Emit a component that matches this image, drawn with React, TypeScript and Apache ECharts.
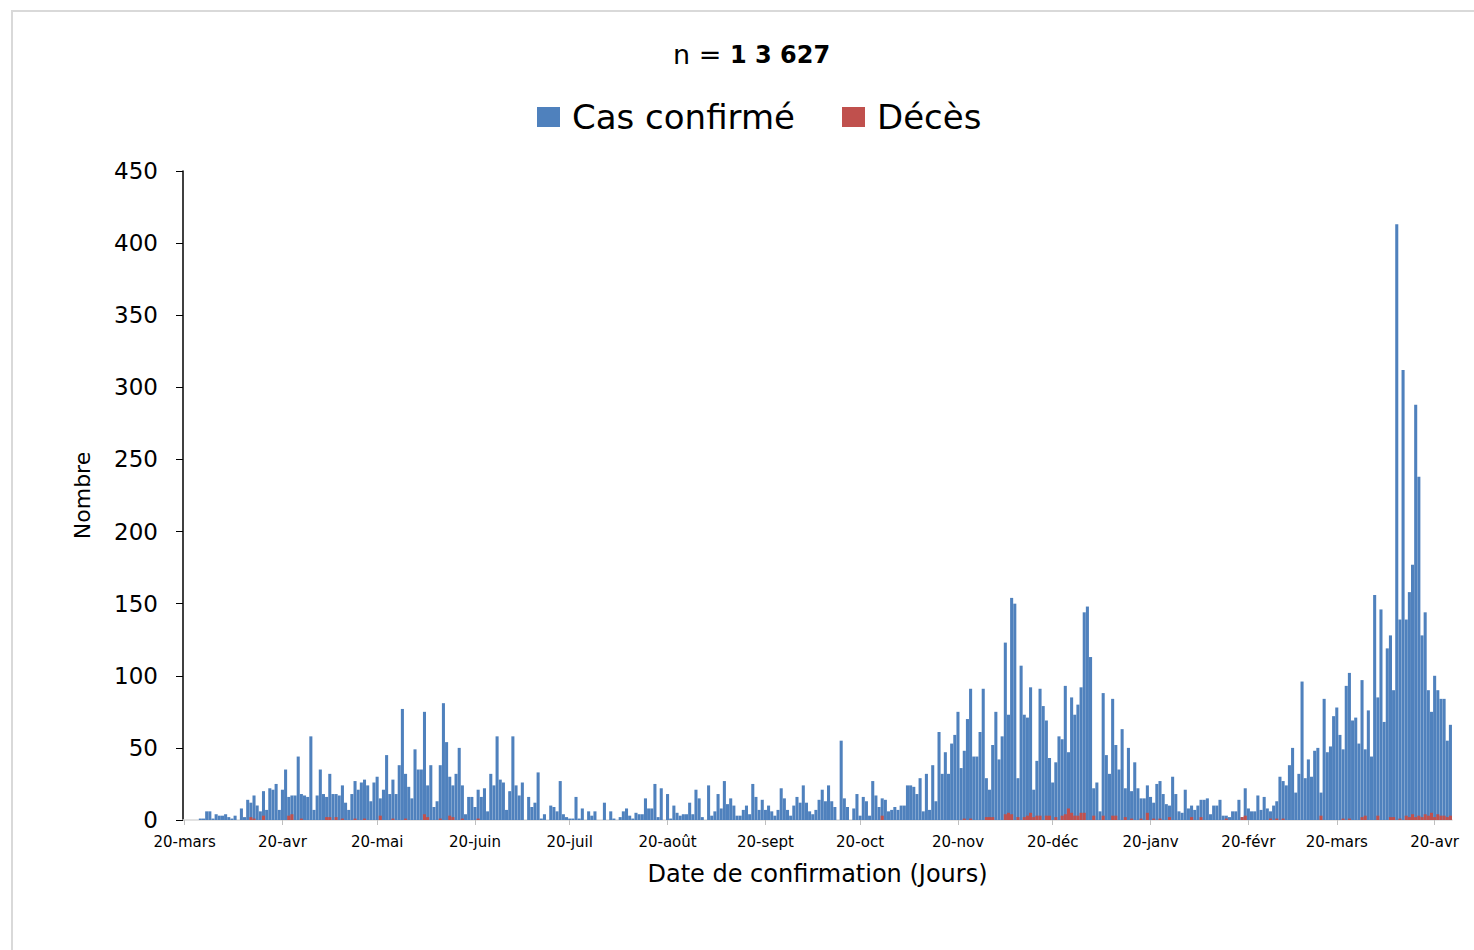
import React, { useEffect, useRef } from "react";
import * as echarts from "echarts";

// Daily series starting 20 March 2020 (one value per day)
const START_YEAR = 2020;
const START_MONTH = 2; // March (0-based)
const START_DAY = 20;
const MONTHS = ["janv", "févr", "mars", "avr", "mai", "juin", "juil", "août", "sept", "oct", "nov", "déc"];

const TITLE_PREFIX = "n = ";
const TITLE_TOTAL = "1 3 627";
const SERIES_CASES = "Cas confirmé";
const SERIES_DEATHS = "Décès";
const X_TITLE = "Date de confirmation (Jours)";
const Y_TITLE = "Nombre";

const cases = [
  0, 0, 0, 0, 0, 1, 1, 6, 6, 1, 4, 3, 3, 4, 2, 1, 3, 0, 8, 2,
  14, 12, 17, 10, 6, 20, 7, 22, 21, 25, 7, 21, 35, 16, 17, 17, 44, 18, 17, 16,
  58, 7, 17, 35, 18, 16, 32, 18, 18, 17, 24, 12, 7, 18, 27, 21, 26, 28, 24, 13,
  26, 30, 15, 21, 45, 18, 28, 18, 38, 77, 32, 23, 15, 49, 35, 35, 75, 24, 38, 9,
  13, 38, 81, 54, 30, 24, 32, 50, 24, 4, 16, 16, 9, 21, 16, 22, 6, 32, 24, 58,
  28, 26, 7, 20, 58, 24, 17, 26, 0, 16, 9, 12, 33, 1, 4, 0, 10, 9, 6, 27,
  4, 2, 1, 1, 16, 1, 8, 0, 6, 3, 6, 0, 0, 12, 0, 6, 1, 0, 2, 6,
  8, 3, 1, 5, 4, 4, 15, 8, 8, 25, 2, 22, 0, 18, 1, 10, 5, 3, 4, 4,
  12, 4, 21, 15, 2, 0, 24, 3, 6, 18, 8, 27, 11, 15, 10, 3, 3, 7, 10, 4,
  25, 16, 7, 14, 7, 10, 6, 3, 7, 22, 15, 7, 3, 10, 16, 12, 24, 12, 6, 4,
  7, 14, 21, 13, 24, 13, 9, 0, 55, 15, 9, 0, 8, 18, 3, 16, 13, 3, 27, 17,
  9, 15, 14, 6, 7, 9, 7, 10, 10, 24, 24, 23, 18, 29, 6, 32, 7, 38, 13, 61,
  32, 47, 32, 53, 59, 75, 36, 48, 70, 91, 44, 44, 61, 91, 29, 21, 52, 75, 42, 58,
  123, 73, 154, 150, 29, 107, 73, 71, 92, 21, 41, 91, 79, 69, 43, 26, 40, 58, 56, 93,
  47, 85, 73, 80, 92, 144, 148, 113, 22, 26, 6, 88, 45, 32, 84, 52, 35, 63, 22, 50,
  20, 40, 22, 15, 15, 24, 16, 12, 25, 27, 18, 11, 10, 30, 18, 6, 5, 21, 8, 10,
  7, 10, 14, 14, 15, 4, 10, 10, 14, 3, 3, 2, 6, 6, 14, 2, 22, 8, 6, 6,
  17, 7, 16, 8, 6, 10, 13, 30, 27, 24, 38, 50, 19, 32, 96, 29, 42, 30, 48, 50,
  19, 84, 47, 51, 72, 78, 59, 49, 93, 102, 69, 71, 53, 97, 49, 76, 44, 156, 85, 146,
  68, 119, 128, 90, 413, 139, 312, 139, 158, 177, 288, 238, 128, 144, 90, 75, 100, 90, 84, 84,
  55, 66,
];

const deaths = [
  0, 0, 0, 0, 0, 0, 0, 0, 0, 0, 0, 0, 0, 0, 0, 0, 0, 0, 0, 0,
  0, 2, 1, 0, 0, 3, 0, 0, 0, 0, 0, 0, 0, 3, 4, 0, 0, 1, 0, 0,
  0, 0, 0, 0, 0, 2, 2, 0, 2, 0, 1, 0, 0, 0, 1, 0, 0, 1, 0, 0,
  0, 0, 3, 0, 0, 0, 1, 0, 0, 0, 1, 0, 0, 0, 0, 0, 4, 2, 0, 0,
  0, 1, 0, 0, 3, 2, 0, 0, 1, 0, 0, 0, 0, 1, 0, 0, 0, 0, 0, 0,
  0, 0, 0, 0, 0, 0, 0, 0, 0, 0, 0, 0, 0, 0, 0, 0, 0, 0, 0, 0,
  0, 0, 0, 0, 0, 0, 0, 0, 0, 0, 0, 0, 0, 0, 0, 0, 0, 0, 0, 0,
  0, 0, 0, 0, 0, 0, 0, 0, 0, 0, 0, 0, 0, 0, 0, 0, 0, 0, 0, 0,
  0, 0, 0, 0, 0, 0, 0, 0, 0, 0, 0, 0, 0, 0, 0, 0, 0, 0, 0, 0,
  0, 0, 0, 0, 0, 0, 0, 0, 0, 0, 0, 0, 0, 0, 0, 0, 0, 0, 0, 0,
  0, 0, 0, 0, 0, 0, 0, 0, 0, 0, 0, 0, 0, 0, 0, 0, 0, 0, 0, 0,
  0, 3, 0, 0, 0, 0, 0, 0, 0, 0, 0, 0, 0, 0, 0, 0, 0, 0, 0, 0,
  0, 0, 0, 0, 0, 0, 0, 1, 0, 1, 0, 0, 0, 0, 2, 2, 2, 0, 0, 0,
  4, 5, 4, 0, 2, 0, 2, 3, 5, 2, 3, 3, 0, 3, 3, 0, 2, 0, 3, 4,
  8, 5, 3, 3, 5, 5, 0, 0, 3, 0, 0, 3, 0, 0, 3, 3, 0, 0, 2, 0,
  1, 0, 0, 1, 0, 5, 0, 1, 0, 1, 0, 0, 2, 0, 0, 0, 0, 0, 0, 2,
  0, 0, 2, 0, 0, 0, 0, 0, 0, 0, 1, 0, 0, 0, 0, 2, 3, 0, 0, 0,
  0, 0, 0, 0, 1, 0, 1, 0, 1, 0, 0, 0, 0, 0, 0, 0, 0, 0, 0, 0,
  3, 0, 0, 0, 0, 0, 0, 1, 0, 1, 0, 0, 0, 2, 3, 0, 0, 0, 3, 0,
  0, 0, 2, 2, 0, 1, 0, 3, 2, 4, 2, 3, 2, 4, 3, 5, 2, 4, 3, 3,
  2, 3,
];

const Y_MIN = 0;
const Y_MAX = 450;
const Y_STEP = 50;

const categories = cases.map((_, i) => {
  const d = new Date(Date.UTC(START_YEAR, START_MONTH, START_DAY + i));
  return `${d.getUTCDate()}-${MONTHS[d.getUTCMonth()]}`;
});

const FONT = "DejaVu Sans";

export default function App() {
  const ref = useRef<HTMLDivElement>(null);

  useEffect(() => {
    if (!ref.current) return;
    const chart = echarts.init(ref.current, undefined, { renderer: "svg" });
    const showLabel = (_i: number, v: string) => v.startsWith("20-");
    chart.setOption({
      animation: false,
      backgroundColor: "#ffffff",
      graphic: [
        {
          type: "rect",
          shape: { x: 12, y: 11, width: 1500, height: 1000 },
          style: { fill: "none", stroke: "#d9d9d9", lineWidth: 2 },
          silent: true,
        },
      ],
      title: {
        text: `{a|${TITLE_PREFIX}}{b|${TITLE_TOTAL}}`,
        left: 668,
        top: 36,
        textStyle: {
          rich: {
            a: { fontFamily: FONT, fontSize: 27, fontWeight: "normal", color: "#000" },
            b: { fontFamily: FONT, fontSize: 24, fontWeight: "bold", color: "#000" },
          },
        },
      },
      legend: {
        left: 532,
        top: 95,
        itemWidth: 23,
        itemHeight: 20,
        itemGap: 47,
        icon: "rect",
        data: [SERIES_CASES, SERIES_DEATHS],
        textStyle: { fontFamily: FONT, fontSize: 34, color: "#000", padding: [0, 0, 0, 7] },
      },
      grid: { left: 183, right: 22, top: 171, bottom: 130, containLabel: false },
      xAxis: {
        type: "category",
        data: categories,
        boundaryGap: true,
        name: X_TITLE,
        nameLocation: "middle",
        nameGap: 42,
        nameTextStyle: { fontFamily: FONT, fontSize: 24, color: "#000" },
        axisLine: { lineStyle: { color: "#d9d9d9", width: 1.5 } },
        axisTick: {
          show: true,
          alignWithLabel: true,
          interval: showLabel,
          length: 5,
          lineStyle: { color: "#bfbfbf" },
        },
        axisLabel: {
          interval: showLabel,
          fontFamily: FONT,
          fontSize: 15,
          color: "#000",
          margin: 14,
        },
        splitLine: { show: false },
      },
      yAxis: {
        type: "value",
        min: Y_MIN,
        max: Y_MAX,
        interval: Y_STEP,
        name: Y_TITLE,
        nameLocation: "middle",
        nameGap: 90,
        nameRotate: 90,
        nameTextStyle: { fontFamily: FONT, fontSize: 22, color: "#000" },
        axisLine: { show: true, lineStyle: { color: "#000", width: 1.5 } },
        axisTick: { show: true, length: 7, lineStyle: { color: "#000" } },
        axisLabel: { fontFamily: FONT, fontSize: 23, color: "#000", margin: 25 },
        splitLine: { show: false },
      },
      series: [
        {
          name: SERIES_CASES,
          type: "bar",
          data: cases,
          barCategoryGap: "3%",
          itemStyle: { color: "#4F81BD" },
        },
        {
          name: SERIES_DEATHS,
          type: "bar",
          data: deaths,
          barGap: "-100%",
          barCategoryGap: "3%",
          itemStyle: { color: "#C0504D" },
        },
      ],
    });
    return () => chart.dispose();
  }, []);

  return (
    <div
      ref={ref}
      style={{ position: "fixed", left: 0, top: 0, width: 1474, height: 950, background: "#fff" }}
    />
  );
}
